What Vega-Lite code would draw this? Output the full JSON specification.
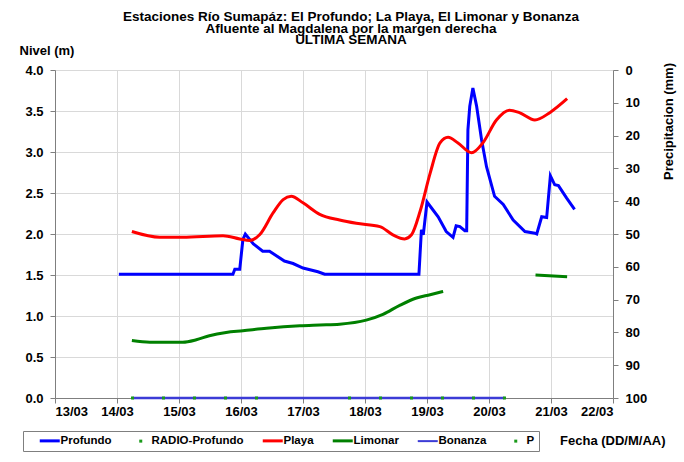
{
  "$schema": "https://vega.github.io/schema/vega-lite/v6.json",
  "width": 558,
  "height": 328,
  "autosize": "none",
  "padding": {"left": 55, "top": 70, "right": 71, "bottom": 64},
  "background": "white",
  "title": {
    "text": ["Estaciones Río Sumapáz: El Profundo; La Playa, El Limonar y Bonanza", "Afluente al Magdalena por la margen derecha", "ULTIMA SEMANA"],
    "font": "Liberation Sans", "fontSize": 13.5, "fontWeight": "bold", "color": "black",
    "anchor": "middle", "frame": "group", "dx": 17, "offset": -3, "lineHeight": 11.8
  },
  "config": {
    "view": {"stroke": null},
    "axis": {
      "labelFont": "Liberation Sans", "labelFontWeight": "bold", "labelFontSize": 13, "labelColor": "black",
      "titleFont": "Liberation Sans", "titleFontWeight": "bold", "titleFontSize": 13, "titleColor": "black",
      "gridColor": "#d9d9d9", "gridWidth": 1, "domainColor": "#7f7f7f", "tickColor": "#7f7f7f", "tickSize": 5
    },
    "legend": {
      "orient": "none", "legendX": -32, "legendY": 361, "direction": "horizontal",
      "strokeColor": "#7f7f7f", "fillColor": "white", "padding": 4,
      "labelFont": "Liberation Sans", "labelFontWeight": "bold", "labelFontSize": 11.5, "labelColor": "black",
      "labelLimit": 200,
      "symbolSize": 100, "symbolType": "stroke", "symbolStrokeWidth": 3, "labelOffset": 5,
      "columnPadding": 6, "symbolOffset": 17
    }
  },
  "datasets": {
    "levels": [
      {"s": "Profundo", "d": 1.03, "v": 1.51},
      {"s": "Profundo", "d": 2.87, "v": 1.51},
      {"s": "Profundo", "d": 2.9, "v": 1.57},
      {"s": "Profundo", "d": 2.98, "v": 1.57},
      {"s": "Profundo", "d": 3.03, "v": 1.93},
      {"s": "Profundo", "d": 3.07, "v": 2.0},
      {"s": "Profundo", "d": 3.2, "v": 1.88},
      {"s": "Profundo", "d": 3.35, "v": 1.79},
      {"s": "Profundo", "d": 3.46, "v": 1.79},
      {"s": "Profundo", "d": 3.7, "v": 1.67},
      {"s": "Profundo", "d": 3.84, "v": 1.64},
      {"s": "Profundo", "d": 4.0, "v": 1.585},
      {"s": "Profundo", "d": 4.24, "v": 1.54},
      {"s": "Profundo", "d": 4.35, "v": 1.51},
      {"s": "Profundo", "d": 5.87, "v": 1.51},
      {"s": "Profundo", "d": 5.91, "v": 2.05},
      {"s": "Profundo", "d": 5.94, "v": 1.99},
      {"s": "Profundo", "d": 6.0, "v": 2.39},
      {"s": "Profundo", "d": 6.07, "v": 2.32},
      {"s": "Profundo", "d": 6.18, "v": 2.21},
      {"s": "Profundo", "d": 6.31, "v": 2.03},
      {"s": "Profundo", "d": 6.42, "v": 1.96},
      {"s": "Profundo", "d": 6.47, "v": 2.1},
      {"s": "Profundo", "d": 6.53, "v": 2.09},
      {"s": "Profundo", "d": 6.61, "v": 2.04},
      {"s": "Profundo", "d": 6.64, "v": 2.04},
      {"s": "Profundo", "d": 6.66, "v": 3.27},
      {"s": "Profundo", "d": 6.69, "v": 3.56},
      {"s": "Profundo", "d": 6.74, "v": 3.78},
      {"s": "Profundo", "d": 6.8, "v": 3.56},
      {"s": "Profundo", "d": 6.88, "v": 3.15},
      {"s": "Profundo", "d": 6.96, "v": 2.82},
      {"s": "Profundo", "d": 7.09, "v": 2.46},
      {"s": "Profundo", "d": 7.23, "v": 2.36},
      {"s": "Profundo", "d": 7.39, "v": 2.17},
      {"s": "Profundo", "d": 7.58, "v": 2.03},
      {"s": "Profundo", "d": 7.74, "v": 2.01},
      {"s": "Profundo", "d": 7.77, "v": 2.0},
      {"s": "Profundo", "d": 7.85, "v": 2.21},
      {"s": "Profundo", "d": 7.93, "v": 2.2},
      {"s": "Profundo", "d": 7.99, "v": 2.71},
      {"s": "Profundo", "d": 8.06, "v": 2.6},
      {"s": "Profundo", "d": 8.12, "v": 2.59},
      {"s": "Profundo", "d": 8.25, "v": 2.44},
      {"s": "Profundo", "d": 8.38, "v": 2.3},
      {"s": "Playa", "d": 1.24, "v": 2.03},
      {"s": "Playa", "d": 1.69, "v": 1.96},
      {"s": "Playa", "d": 2.06, "v": 1.96},
      {"s": "Playa", "d": 2.71, "v": 1.98},
      {"s": "Playa", "d": 2.98, "v": 1.94},
      {"s": "Playa", "d": 3.14, "v": 1.92},
      {"s": "Playa", "d": 3.3, "v": 1.99},
      {"s": "Playa", "d": 3.52, "v": 2.26},
      {"s": "Playa", "d": 3.68, "v": 2.42},
      {"s": "Playa", "d": 3.81, "v": 2.46},
      {"s": "Playa", "d": 4.0, "v": 2.38},
      {"s": "Playa", "d": 4.27, "v": 2.24},
      {"s": "Playa", "d": 4.59, "v": 2.17},
      {"s": "Playa", "d": 4.86, "v": 2.13},
      {"s": "Playa", "d": 5.24, "v": 2.09},
      {"s": "Playa", "d": 5.45, "v": 1.99},
      {"s": "Playa", "d": 5.64, "v": 1.94},
      {"s": "Playa", "d": 5.75, "v": 1.99},
      {"s": "Playa", "d": 5.89, "v": 2.28},
      {"s": "Playa", "d": 6.05, "v": 2.74},
      {"s": "Playa", "d": 6.21, "v": 3.11},
      {"s": "Playa", "d": 6.34, "v": 3.18},
      {"s": "Playa", "d": 6.5, "v": 3.11},
      {"s": "Playa", "d": 6.72, "v": 2.99},
      {"s": "Playa", "d": 6.9, "v": 3.11},
      {"s": "Playa", "d": 7.12, "v": 3.39},
      {"s": "Playa", "d": 7.33, "v": 3.51},
      {"s": "Playa", "d": 7.49, "v": 3.48},
      {"s": "Playa", "d": 7.74, "v": 3.39},
      {"s": "Playa", "d": 7.98, "v": 3.48},
      {"s": "Playa", "d": 8.26, "v": 3.65},
      {"s": "Limonar", "seg": 1, "d": 1.24, "v": 0.7},
      {"s": "Limonar", "seg": 1, "d": 1.53, "v": 0.68},
      {"s": "Limonar", "seg": 1, "d": 2.06, "v": 0.68},
      {"s": "Limonar", "seg": 1, "d": 2.28, "v": 0.71},
      {"s": "Limonar", "seg": 1, "d": 2.49, "v": 0.76},
      {"s": "Limonar", "seg": 1, "d": 2.76, "v": 0.8},
      {"s": "Limonar", "seg": 1, "d": 3.03, "v": 0.82},
      {"s": "Limonar", "seg": 1, "d": 3.41, "v": 0.85},
      {"s": "Limonar", "seg": 1, "d": 3.95, "v": 0.88},
      {"s": "Limonar", "seg": 1, "d": 4.27, "v": 0.89},
      {"s": "Limonar", "seg": 1, "d": 4.59, "v": 0.9},
      {"s": "Limonar", "seg": 1, "d": 5.02, "v": 0.95},
      {"s": "Limonar", "seg": 1, "d": 5.29, "v": 1.02},
      {"s": "Limonar", "seg": 1, "d": 5.56, "v": 1.13},
      {"s": "Limonar", "seg": 1, "d": 5.83, "v": 1.22},
      {"s": "Limonar", "seg": 1, "d": 6.05, "v": 1.26},
      {"s": "Limonar", "seg": 1, "d": 6.26, "v": 1.3},
      {"s": "Limonar", "seg": 2, "d": 7.75, "v": 1.5},
      {"s": "Limonar", "seg": 2, "d": 8.26, "v": 1.48},
      {"s": "Bonanza", "d": 1.25, "v": 0},
      {"s": "Bonanza", "d": 1.75, "v": 0},
      {"s": "Bonanza", "d": 2.25, "v": 0},
      {"s": "Bonanza", "d": 2.75, "v": 0},
      {"s": "Bonanza", "d": 3.25, "v": 0},
      {"s": "Bonanza", "d": 3.75, "v": 0},
      {"s": "Bonanza", "d": 4.25, "v": 0},
      {"s": "Bonanza", "d": 4.75, "v": 0},
      {"s": "Bonanza", "d": 5.25, "v": 0},
      {"s": "Bonanza", "d": 5.75, "v": 0},
      {"s": "Bonanza", "d": 6.25, "v": 0},
      {"s": "Bonanza", "d": 6.75, "v": 0},
      {"s": "Bonanza", "d": 7.25, "v": 0}
    ],
    "precip": [
      {"s": "P", "d": 1.25, "p": 100},
      {"s": "P", "d": 1.75, "p": 100},
      {"s": "P", "d": 2.25, "p": 100},
      {"s": "P", "d": 2.75, "p": 100},
      {"s": "P", "d": 3.25, "p": 100},
      {"s": "P", "d": 4.75, "p": 100},
      {"s": "P", "d": 5.25, "p": 100},
      {"s": "P", "d": 5.75, "p": 100},
      {"s": "P", "d": 6.25, "p": 100},
      {"s": "P", "d": 6.75, "p": 100},
      {"s": "P", "d": 7.25, "p": 100}
    ]
  },
  "layer": [
    {
      "data": {"name": "levels"},
      "encoding": {
        "x": {
          "field": "d", "type": "quantitative",
          "scale": {"domain": [0, 9], "nice": false, "zero": false},
          "axis": {
            "values": [0, 1, 2, 3, 4, 5, 6, 7, 8, 9],
            "labelExpr": "['13/03','14/03','15/03','16/03','17/03','18/03','19/03','20/03','21/03','22/03'][datum.value]",
            "labelPadding": 2, "grid": true,
            "title": "Fecha (DD/M/AA)", "titleX": 610, "titleY": 42, "titleAlign": "right", "titleBaseline": "middle", "titleAnchor": null
          }
        },
        "y": {
          "field": "v", "type": "quantitative",
          "scale": {"domain": [0, 4], "nice": false},
          "axis": {
            "values": [0, 0.5, 1, 1.5, 2, 2.5, 3, 3.5, 4], "format": ".1f", "labelPadding": 7, "grid": true,
            "title": "Nivel (m)", "titleAngle": 0, "titleX": -36, "titleY": -20, "titleAlign": "left", "titleBaseline": "middle"
          }
        },
        "color": {
          "field": "s", "type": "nominal",
          "scale": {
            "domain": ["Profundo", "RADIO-Profundo", "Playa", "Limonar", "Bonanza", "P"],
            "range": ["#0000ff", "#1a9a1a", "#ff0000", "#008000", "#3c3cd6", "#1a9a1a"]
          },
          "legend": {
            "title": null,
            "encode": {
              "symbols": {
                "update": {
                  "shape": {"signal": "datum.value==='P'||datum.value==='RADIO-Profundo'?'square':'stroke'"},
                  "size": {"signal": "datum.value==='P'||datum.value==='RADIO-Profundo'?9:400"},
                  "strokeWidth": {"signal": "datum.value==='Bonanza'?2:(datum.value==='P'||datum.value==='RADIO-Profundo'?0:3)"},
                  "fill": {"scale": "color", "field": "value"},
                  "stroke": {"scale": "color", "field": "value"},
                  "opacity": {"value": 1}
                }
              }
            }
          }
        }
      },
      "layer": [
        {"transform": [{"filter": "datum.s==='Bonanza'"}], "mark": {"type": "line", "strokeWidth": 2.5}},
        {"transform": [{"filter": "datum.s==='Profundo'"}], "mark": {"type": "line", "strokeWidth": 3}},
        {"transform": [{"filter": "datum.s==='Playa'||datum.s==='Limonar'"}], "mark": {"type": "line", "strokeWidth": 3, "interpolate": "monotone"}, "encoding": {"detail": {"field": "seg", "type": "nominal"}}}
      ]
    },
    {
      "data": {"name": "precip"},
      "mark": {"type": "square", "size": 9, "filled": true, "opacity": 1},
      "encoding": {
        "x": {"field": "d", "type": "quantitative"},
        "y": {
          "field": "p", "type": "quantitative",
          "scale": {"domain": [0, 100], "reverse": true, "nice": false},
          "axis": {
            "orient": "right", "values": [0, 10, 20, 30, 40, 50, 60, 70, 80, 90, 100], "labelPadding": 7, "grid": false,
            "title": "Precipitacion (mm)", "titleAngle": 270, "titleX": 55, "titleY": 51, "titleAlign": "center", "titleBaseline": "middle"
          }
        },
        "color": {"field": "s", "type": "nominal"}
      }
    }
  ],
  "resolve": {"scale": {"y": "independent"}}
}
